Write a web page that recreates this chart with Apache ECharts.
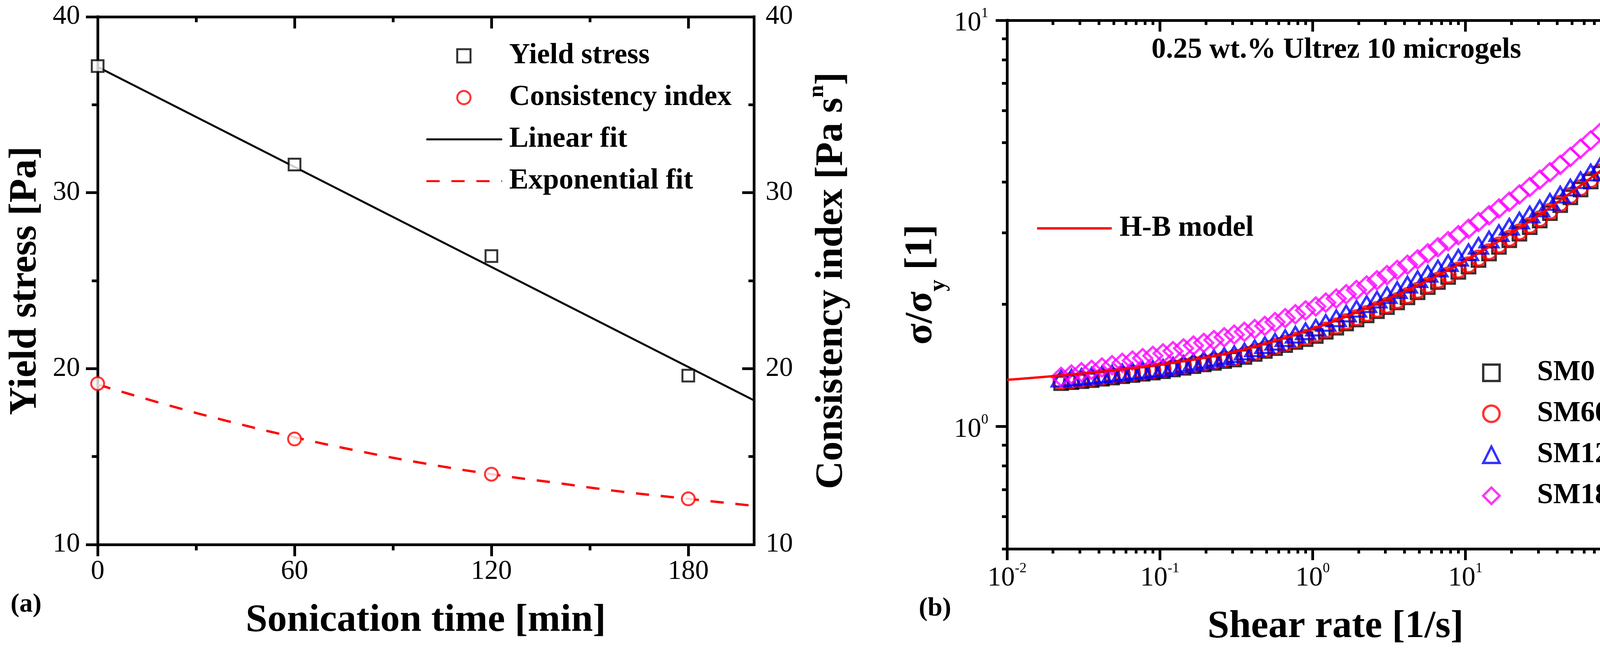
<!DOCTYPE html>
<html>
<head>
<meta charset="utf-8">
<title>Yield stress and flow curves</title>
<script src="https://cdn.jsdelivr.net/npm/echarts@6/dist/echarts.min.js"></script>
<style>
  html, body { margin: 0; padding: 0; background: #fff; }
  #chart { width: 4287px; height: 1660px; }
</style>
</head>
<body>
<div id="chart"></div>
<script>
// ---- (a) sonication time series ----
var sonicationTime = [0, 60, 120, 180];
var yieldStress = [37.2, 31.6, 26.4, 19.6];
var consistencyIndex = [19.15, 16.0, 14.0, 12.6];
var linearFitX = [0, 200];
var linearFitY = [37.15, 18.2];
var expFitX = [0, 20, 40, 60, 80, 100, 120, 140, 160, 180, 200];
var expFitY = [19.1, 18.0, 17.0, 16.1, 15.3, 14.6, 14.0, 13.5, 13.0, 12.6, 12.2];

// ---- (b) normalised flow curves ----
var shearRate = [0.0226, 0.0264, 0.0307, 0.0358, 0.0418, 0.0487, 0.0568, 0.0662, 0.0772, 0.0900,
  0.105, 0.122, 0.143, 0.166, 0.194, 0.226, 0.264, 0.307, 0.358, 0.418,
  0.487, 0.568, 0.662, 0.772, 0.900, 1.05, 1.22, 1.43, 1.66, 1.94,
  2.26, 2.64, 3.07, 3.58, 4.18, 4.87, 5.68, 6.62, 7.72, 9.00,
  10.5, 12.2, 14.3, 16.6, 19.4, 22.6, 26.4, 30.7, 35.8, 41.8,
  48.7, 56.8, 66.2, 77.2, 90.0];
var sm0 = [1.279, 1.286, 1.293, 1.301, 1.311, 1.320, 1.330, 1.339, 1.349, 1.358,
  1.368, 1.382, 1.395, 1.408, 1.422, 1.434, 1.449, 1.462, 1.483, 1.509,
  1.535, 1.560, 1.587, 1.615, 1.641, 1.671, 1.711, 1.751, 1.793, 1.834,
  1.878, 1.923, 1.968, 2.021, 2.080, 2.141, 2.204, 2.268, 2.335, 2.403,
  2.476, 2.571, 2.666, 2.769, 2.875, 2.983, 3.096, 3.214, 3.352, 3.507,
  3.667, 3.833, 4.010, 4.195, 4.43];
var sm60 = [1.291, 1.298, 1.305, 1.314, 1.324, 1.333, 1.343, 1.352, 1.362, 1.372,
  1.382, 1.396, 1.409, 1.422, 1.436, 1.449, 1.464, 1.477, 1.498, 1.524,
  1.550, 1.576, 1.603, 1.631, 1.658, 1.688, 1.728, 1.769, 1.811, 1.853,
  1.897, 1.942, 1.988, 2.041, 2.101, 2.163, 2.226, 2.291, 2.359, 2.427,
  2.501, 2.597, 2.693, 2.797, 2.904, 3.013, 3.127, 3.246, 3.386, 3.542,
  3.704, 3.872, 4.050, 4.235, 4.48];
var sm120 = [1.312, 1.319, 1.325, 1.333, 1.342, 1.350, 1.359, 1.368, 1.377, 1.386,
  1.395, 1.411, 1.426, 1.442, 1.458, 1.474, 1.491, 1.507, 1.530, 1.558,
  1.586, 1.617, 1.650, 1.683, 1.716, 1.752, 1.799, 1.847, 1.897, 1.949,
  2.001, 2.053, 2.106, 2.167, 2.235, 2.305, 2.376, 2.449, 2.526, 2.603,
  2.686, 2.785, 2.886, 2.992, 3.102, 3.214, 3.326, 3.442, 3.573, 3.722,
  3.874, 4.041, 4.219, 4.403, 4.65];
var sm180 = [1.325, 1.343, 1.361, 1.379, 1.398, 1.416, 1.435, 1.454, 1.474, 1.493,
  1.514, 1.534, 1.558, 1.583, 1.607, 1.633, 1.659, 1.684, 1.711, 1.738,
  1.769, 1.808, 1.849, 1.890, 1.932, 1.975, 2.019, 2.066, 2.117, 2.169,
  2.225, 2.292, 2.360, 2.430, 2.503, 2.580, 2.670, 2.763, 2.860, 2.959,
  3.069, 3.188, 3.313, 3.443, 3.577, 3.727, 3.887, 4.053, 4.227, 4.406,
  4.609, 4.830, 5.064, 5.307, 5.60];
var hbRate = [0.01, 0.0316, 0.1, 0.316, 1, 3.16, 10, 31.6, 100, 200];
var hbRatio = [1.303, 1.352, 1.419, 1.531, 1.738, 2.065, 2.559, 3.350, 4.592, 5.598];

// ---- ticks ----
var timeTicks = [0, 60, 120, 180];
var timeMinor = [30, 90, 150];
var stressTicks = [10, 20, 30, 40];
var stressMinor = [15, 25, 35];
var rateTicks = [0.01, 0.1, 1, 10, 100];
var rateMinor = [0.02, 0.03, 0.04, 0.05, 0.06, 0.07, 0.08, 0.09,
  0.2, 0.3, 0.4, 0.5, 0.6, 0.7, 0.8, 0.9, 2, 3, 4, 5, 6, 7, 8, 9,
  20, 30, 40, 50, 60, 70, 80, 90, 200];
var ratioTicks = [1, 10];
var ratioMinor = [0.5, 0.6, 0.7, 0.8, 0.9, 2, 3, 4, 5, 6, 7, 8, 9];

var SERIF = '"Liberation Serif", "Times New Roman", serif';

function pairs(xs, ys) {
  return xs.map(function (x, i) { return [x, ys[i]]; });
}

// one side of the box: line and/or ticks, no labels
function frame(grid, pos, type, min, max, ticks, len, inside, line) {
  return {
    type: type, gridIndex: grid, position: pos, min: min, max: max, logBase: 10,
    axisLine: { show: line, onZero: false, lineStyle: { color: '#000', width: 7, cap: 'square' } },
    axisTick: { show: true, inside: inside, length: len, customValues: ticks,
      lineStyle: { color: '#000', width: 7 } },
    axisLabel: { show: false },
    splitLine: { show: false },
    nameMoveOverlap: false
  };
}

var titleFont = { fontFamily: SERIF, fontSize: 100, fontWeight: 'bold', color: '#000' };

function plainLabels(values, margin) {
  return { show: true, customValues: values, margin: margin,
    fontFamily: SERIF, fontSize: 70, color: '#000' };
}
function powLabels(values, margin) {
  return {
    show: true, customValues: values, margin: margin, color: '#000',
    formatter: function (v) { return '{b|10}{s|' + Math.round(Math.log10(v)) + '}'; },
    rich: {
      b: { fontFamily: SERIF, fontSize: 70, lineHeight: 70, verticalAlign: 'top', padding: [8, 0, 0, 0], color: '#000' },
      s: { fontFamily: SERIF, fontSize: 36, lineHeight: 36, verticalAlign: 'top', color: '#000' }
    }
  };
}

// (a) axes
var xTime = frame(0, 'bottom', 'value', 0, 200, timeTicks, 30, false, true);
xTime.axisLabel = plainLabels(timeTicks, 35);
xTime.name = 'Sonication time [min]';
xTime.nameLocation = 'middle';
xTime.nameGap = 145;
xTime.nameTextStyle = titleFont;

var yStress = frame(0, 'left', 'value', 10, 40, stressTicks, 30, false, true);
yStress.axisLabel = plainLabels(stressTicks, 45);
yStress.name = 'Yield stress [Pa]';
yStress.nameLocation = 'middle';
yStress.nameRotate = 90;
yStress.nameGap = 135;
yStress.nameTextStyle = titleFont;

var yIndex = frame(0, 'right', 'value', 10, 40, stressTicks, 30, true, true);
yIndex.axisLabel = plainLabels(stressTicks, 30);
yIndex.name = '{t|Consistency index [Pa s}{s|n}{t|]}';
yIndex.nameLocation = 'middle';
yIndex.nameRotate = 90;
yIndex.nameGap = 133;
yIndex.nameTextStyle = {
  color: '#000',
  rich: {
    t: { fontFamily: SERIF, fontSize: 100, fontWeight: 'bold', lineHeight: 100, verticalAlign: 'top', padding: [16, 0, 0, 0], color: '#000' },
    s: { fontFamily: SERIF, fontSize: 58, fontWeight: 'bold', lineHeight: 60, verticalAlign: 'top', color: '#000' }
  }
};

// (b) axes
var xRate = frame(1, 'bottom', 'log', 0.01, 200, rateTicks, 29, false, true);
xRate.axisLabel = powLabels(rateTicks, 33);
xRate.name = 'Shear rate [1/s]';
xRate.nameLocation = 'middle';
xRate.nameGap = 150;
xRate.nameTextStyle = titleFont;

var yRatio = frame(1, 'left', 'log', 0.5, 10, ratioTicks, 29, false, true);
yRatio.axisLabel = powLabels(ratioTicks, 48);
yRatio.name = '{t|σ/σ}{s|y}{t| [1]}';
yRatio.nameLocation = 'middle';
yRatio.nameRotate = 90;
yRatio.nameGap = 170;
yRatio.nameTextStyle = {
  color: '#000',
  rich: {
    t: { fontFamily: SERIF, fontSize: 100, fontWeight: 'bold', lineHeight: 100, verticalAlign: 'top', color: '#000' },
    s: { fontFamily: SERIF, fontSize: 60, fontWeight: 'bold', lineHeight: 60, verticalAlign: 'top', padding: [64, 0, 0, 0], color: '#000' }
  }
};

var hollow = function (c, w) { return { color: 'rgba(0,0,0,0)', borderColor: c, borderWidth: w }; };
var filled = function (c, w) { return { color: '#fff', borderColor: c, borderWidth: w }; };

function legendText(padLeft) {
  return { fontFamily: SERIF, fontSize: 74, fontWeight: 'bold', color: '#000', lineHeight: 74, padding: [0, 0, 0, padLeft] };
}
// line entries: line only, no marker in the middle
var lineEntry = function (name) { return { name: name, itemStyle: { opacity: 0 } }; };

var option = {
  animation: false,
  backgroundColor: '#fff',
  grid: [
    { left: 250, top: 43, width: 1680, height: 1352, outerBoundsMode: 'none' },
    { left: 2578, top: 52, width: 1682, height: 1354, outerBoundsMode: 'none' }
  ],
  xAxis: [
    xTime,
    frame(0, 'bottom', 'value', 0, 200, timeMinor, 15, false, false),
    frame(0, 'top', 'value', 0, 200, timeTicks, 30, true, true),
    frame(0, 'top', 'value', 0, 200, timeMinor, 14, true, false),
    xRate,
    frame(1, 'bottom', 'log', 0.01, 200, rateMinor, 12, false, false),
    frame(1, 'top', 'log', 0.01, 200, rateTicks, 29, true, true),
    frame(1, 'top', 'log', 0.01, 200, rateMinor, 12, true, false)
  ],
  yAxis: [
    yStress,
    frame(0, 'left', 'value', 10, 40, stressMinor, 15, false, false),
    yIndex,
    frame(0, 'right', 'value', 10, 40, stressMinor, 14, true, false),
    yRatio,
    frame(1, 'left', 'log', 0.5, 10, ratioMinor, 13, false, false),
    frame(1, 'right', 'log', 0.5, 10, ratioTicks, 29, true, true),
    frame(1, 'right', 'log', 0.5, 10, ratioMinor, 13, true, false)
  ],
  legend: [
    // (a) markers
    {
      orient: 'vertical', left: 1163, top: 101, itemWidth: 34, itemHeight: 34, itemGap: 33,
      selectedMode: false, textStyle: legendText(94), itemStyle: { borderWidth: 5 },
      data: ['Yield stress', 'Consistency index']
    },
    // (a) fitted lines
    {
      orient: 'vertical', left: 1084, top: 315, itemWidth: 194, itemHeight: 34, itemGap: 33,
      selectedMode: false, textStyle: legendText(13), lineStyle: { width: 5 },
      data: [lineEntry('Linear fit'), lineEntry('Exponential fit')]
    },
    // (b) model line
    {
      orient: 'vertical', left: 2647, top: 543, itemWidth: 191, itemHeight: 36, itemGap: 31,
      selectedMode: false, textStyle: legendText(15), lineStyle: { width: 6 },
      data: [lineEntry('H-B model')]
    },
    // (b) samples
    {
      orient: 'vertical', left: 3789, top: 913, itemWidth: 42, itemHeight: 42, itemGap: 31,
      selectedMode: false, textStyle: legendText(91), itemStyle: { borderWidth: 6 },
      data: ['SM0', 'SM60', 'SM120', 'SM180']
    }
  ],
  graphic: [
    { type: 'text', left: 27, top: 1515, style: { text: '(a)', fill: '#000', font: 'bold 68px ' + SERIF } },
    { type: 'text', left: 2352, top: 1525, style: { text: '(b)', fill: '#000', font: 'bold 68px ' + SERIF } },
    { type: 'text', x: 3421, y: 129, style: { text: '0.25 wt.% Ultrez 10 microgels', fill: '#000',
      font: 'bold 74px ' + SERIF, align: 'center', verticalAlign: 'middle' } }
  ],
  series: [
    { name: 'Linear fit', type: 'line', xAxisIndex: 0, yAxisIndex: 0, symbol: 'none', z: 2,
      data: pairs(linearFitX, linearFitY),
      lineStyle: { color: '#000', width: 5 }, itemStyle: { color: '#000' } },
    { name: 'Exponential fit', type: 'line', xAxisIndex: 0, yAxisIndex: 2, symbol: 'none', smooth: true, z: 2,
      data: pairs(expFitX, expFitY),
      lineStyle: { color: '#ff0000', width: 6, type: [34, 30] }, itemStyle: { color: '#ff0000' } },
    { name: 'Yield stress', type: 'scatter', xAxisIndex: 0, yAxisIndex: 0, symbol: 'rect', symbolSize: 30, z: 4,
      data: pairs(sonicationTime, yieldStress), itemStyle: filled('#000', 5) },
    { name: 'Consistency index', type: 'scatter', xAxisIndex: 0, yAxisIndex: 2, symbol: 'circle', symbolSize: 33, z: 4,
      data: pairs(sonicationTime, consistencyIndex), itemStyle: filled('#ff0000', 5) },

    { name: 'SM0', type: 'scatter', xAxisIndex: 4, yAxisIndex: 4, symbol: 'rect', symbolSize: 34, z: 3,
      data: pairs(shearRate, sm0), itemStyle: hollow('#000', 6) },
    { name: 'SM60', type: 'scatter', xAxisIndex: 4, yAxisIndex: 4, symbol: 'circle', symbolSize: 38, z: 3,
      data: pairs(shearRate, sm60), itemStyle: hollow('#ff0000', 6) },
    { name: 'SM120', type: 'scatter', xAxisIndex: 4, yAxisIndex: 4, symbol: 'triangle', symbolSize: [48, 40], z: 3,
      data: pairs(shearRate, sm120), itemStyle: hollow('#0000ff', 6) },
    { name: 'SM180', type: 'scatter', xAxisIndex: 4, yAxisIndex: 4, symbol: 'diamond', symbolSize: [48, 46], z: 3,
      data: pairs(shearRate, sm180), itemStyle: hollow('#ff00ff', 6) },
    { name: 'H-B model', type: 'line', xAxisIndex: 4, yAxisIndex: 4, symbol: 'none', smooth: 0.35, z: 5,
      data: pairs(hbRate, hbRatio),
      lineStyle: { color: '#ff0000', width: 6 }, itemStyle: { color: '#ff0000' } }
  ]
};

var chartDom = document.getElementById('chart');
var myChart = echarts.init(chartDom);
myChart.setOption(option);
</script>
</body>
</html>
